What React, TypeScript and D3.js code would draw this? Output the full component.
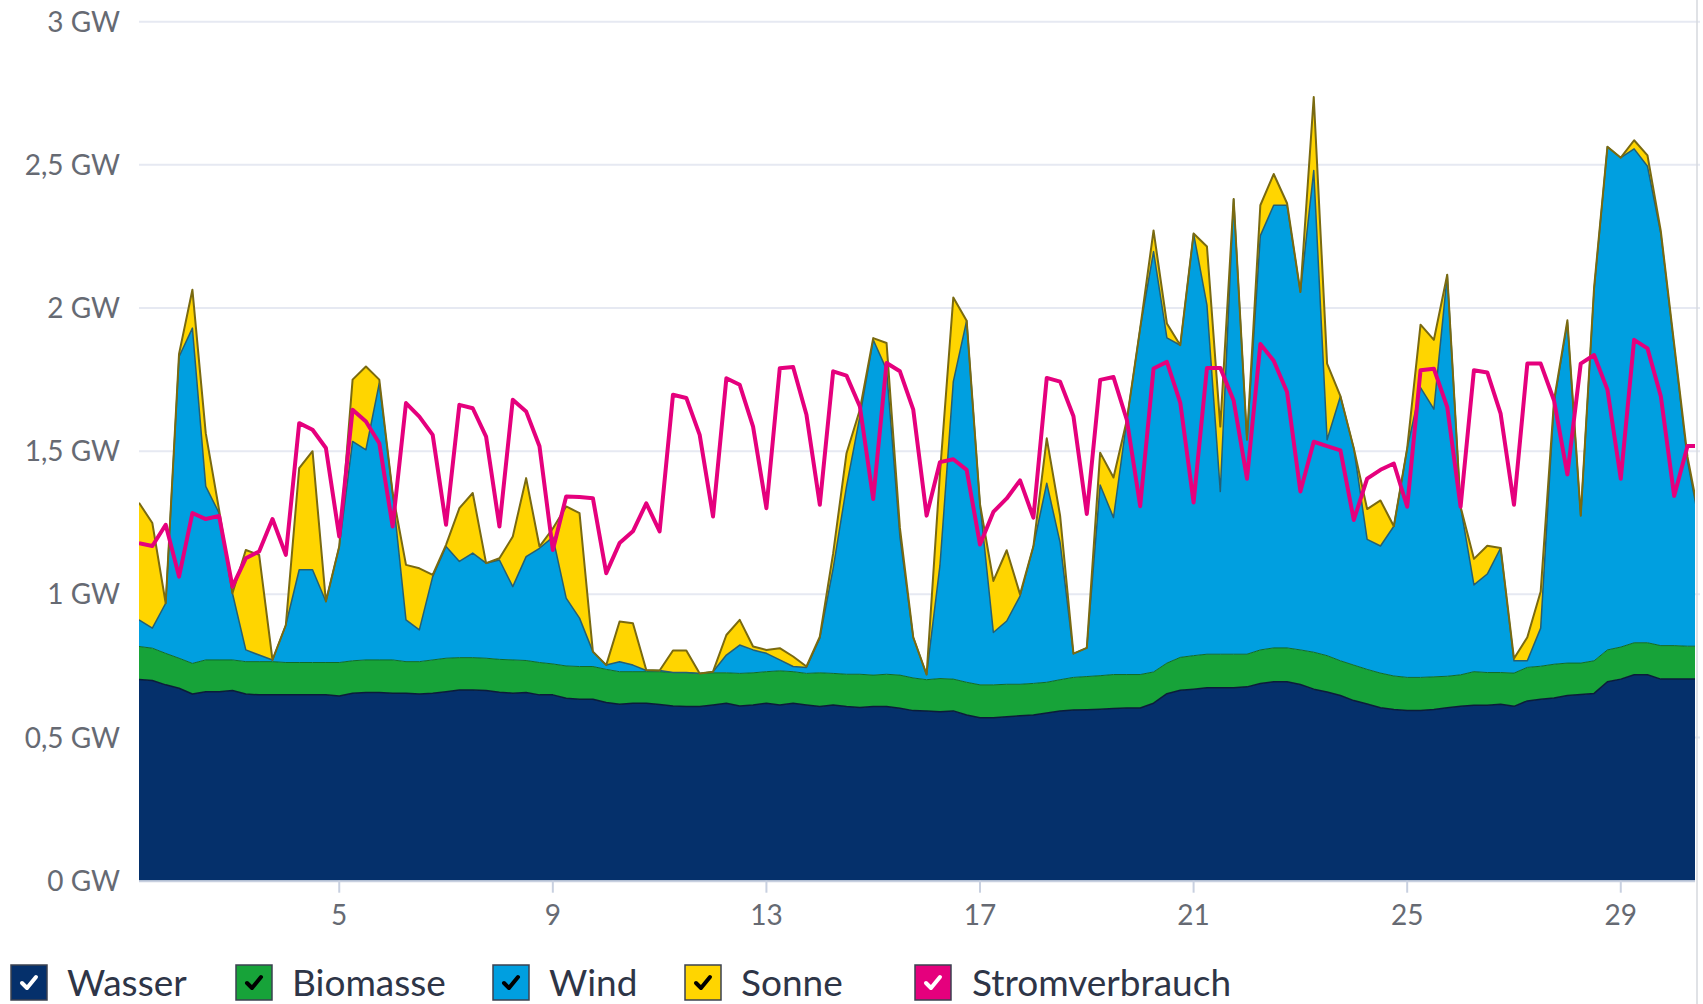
import { useEffect, useRef } from 'react';
import * as d3 from 'd3';

const width = 1703;
const height = 1004;
const plotLeft = 139;
const plotRight = 1695;
const plotTop = 21.7;
const plotBottom = 880.7;

// 6-hour values, first one at day 1, 06:00
const firstDay = 1.25;
const stepDays = 0.25;
const lastVisibleDay = 30.39;

// GW
const wasser = [0.703,0.699,0.684,0.672,0.652,0.66,0.66,0.664,0.652,0.649,
  0.649,0.649,0.649,0.649,0.649,0.645,0.655,0.657,0.657,0.655,
  0.655,0.652,0.655,0.66,0.666,0.666,0.664,0.658,0.655,0.657,
  0.649,0.649,0.637,0.634,0.634,0.622,0.616,0.62,0.62,0.615,
  0.61,0.608,0.608,0.614,0.62,0.61,0.614,0.62,0.614,0.62,
  0.614,0.608,0.614,0.608,0.605,0.608,0.608,0.602,0.594,0.593,
  0.59,0.593,0.579,0.569,0.569,0.573,0.576,0.579,0.586,0.593,
  0.596,0.597,0.599,0.601,0.603,0.603,0.62,0.653,0.665,0.669,
  0.674,0.674,0.674,0.677,0.689,0.695,0.695,0.685,0.669,0.659,
  0.647,0.629,0.617,0.604,0.598,0.594,0.594,0.598,0.604,0.609,
  0.613,0.613,0.616,0.609,0.628,0.634,0.638,0.647,0.65,0.654,
  0.695,0.704,0.719,0.719,0.704,0.704,0.704,0.704];

const biomasse = [0.115,0.113,0.11,0.105,0.107,0.111,0.111,0.107,0.113,0.116,
  0.116,0.113,0.113,0.113,0.113,0.117,0.113,0.114,0.114,0.116,
  0.11,0.113,0.116,0.117,0.113,0.113,0.113,0.115,0.116,0.112,
  0.113,0.108,0.113,0.114,0.114,0.116,0.114,0.11,0.11,0.115,
  0.117,0.119,0.116,0.112,0.106,0.114,0.112,0.11,0.119,0.11,
  0.11,0.118,0.11,0.113,0.116,0.11,0.113,0.116,0.114,0.109,
  0.116,0.111,0.114,0.115,0.115,0.113,0.11,0.11,0.107,0.109,
  0.114,0.116,0.117,0.119,0.117,0.117,0.109,0.107,0.115,0.117,
  0.117,0.117,0.117,0.114,0.117,0.118,0.118,0.121,0.129,0.127,
  0.121,0.124,0.121,0.121,0.117,0.116,0.116,0.114,0.11,0.11,
  0.117,0.114,0.111,0.116,0.117,0.115,0.118,0.113,0.11,0.114,
  0.111,0.112,0.112,0.112,0.117,0.117,0.115,0.115];

const wind = [0.093,0.07,0.175,1.053,1.171,0.606,0.513,0.233,0.041,0.023,
  0.006,0.131,0.324,0.324,0.213,0.405,0.766,0.734,0.967,0.583,
  0.146,0.111,0.291,0.39,0.336,0.365,0.332,0.347,0.256,0.363,
  0.399,0.443,0.237,0.169,0.052,0.015,0.035,0.023,0.004,0.004,
  0,0,0,0.004,0.062,0.099,0.08,0.064,0.038,0.018,
  0.021,0.121,0.367,0.656,0.9,1.171,1.064,0.484,0.142,0.018,
  0.395,1.039,1.263,0.631,0.183,0.221,0.308,0.479,0.695,0.479,
  0.083,0.1,0.666,0.548,0.889,1.21,1.468,1.136,1.09,1.474,
  1.219,0.568,1.59,0.749,1.447,1.546,1.546,1.25,1.682,0.754,
  0.924,0.757,0.454,0.444,0.523,0.8,1.012,0.935,1.402,0.587,
  0.303,0.344,0.435,0.043,0.023,0.133,0.913,1.19,0.515,1.295,
  1.757,1.709,1.725,1.664,1.439,1.045,0.646,0.403];

const sonne = [0.409,0.367,0,0.01,0.134,0.186,0.011,0,0.349,0.35,
  0,0,0.355,0.414,0,0,0.216,0.291,0.012,0,
  0.192,0.215,0.006,0.006,0.186,0.21,0,0.006,0.175,0.274,
  0.006,0.03,0.32,0.367,0,0,0.14,0.146,0.002,0,
  0.077,0.077,0,0,0.07,0.088,0.012,0.012,0.041,0.035,
  0.003,0.005,0.053,0.116,0.024,0.006,0.093,0.03,0,0,
  0.321,0.294,0,0,0.18,0.247,0.006,0,0.157,0.094,
  0,0,0.113,0.14,0,0,0.074,0.05,0,0,
  0.205,0.227,0,0,0.106,0.109,0.007,0,0.257,0.266,
  0,0,0.106,0.159,0,0,0.22,0.242,0,0,
  0.091,0.099,0,0.008,0.082,0.128,0.008,0.007,0,0.008,
  0,0,0.03,0.038,0.008,0.008,0.015,0.016];

const verbrauch = [1.179,1.169,1.243,1.062,1.284,1.263,1.274,1.027,1.126,1.15,
  1.263,1.138,1.598,1.575,1.511,1.202,1.645,1.604,1.528,1.237,
  1.668,1.621,1.557,1.243,1.662,1.65,1.551,1.237,1.68,1.639,
  1.517,1.155,1.342,1.34,1.336,1.074,1.179,1.22,1.318,1.22,
  1.697,1.686,1.557,1.272,1.755,1.732,1.586,1.301,1.79,1.794,
  1.627,1.313,1.779,1.764,1.656,1.333,1.808,1.779,1.645,1.275,
  1.462,1.472,1.435,1.174,1.288,1.335,1.398,1.268,1.756,1.743,
  1.622,1.281,1.749,1.759,1.609,1.308,1.789,1.812,1.67,1.321,
  1.791,1.791,1.677,1.404,1.874,1.816,1.707,1.359,1.533,1.518,
  1.503,1.26,1.404,1.435,1.457,1.306,1.783,1.788,1.654,1.306,
  1.783,1.775,1.631,1.313,1.806,1.806,1.677,1.419,1.806,1.836,
  1.715,1.404,1.889,1.859,1.692,1.344,1.518,1.518];

const yTicks = [0, 0.5, 1, 1.5, 2, 2.5, 3];
const xTicks = [5, 9, 13, 17, 21, 25, 29];

const stackKeys = ['wasser', 'biomasse', 'wind', 'sonne'];

const styles: any = {
  wasser: { label: 'Wasser', fill: '#05306b', line: '#0b1c3a', lineWidth: 1.5, check: '#ffffff' },
  biomasse: { label: 'Biomasse', fill: '#17a339', line: '#0f6a28', lineWidth: 1, check: '#000000' },
  wind: { label: 'Wind', fill: '#009fe0', line: '#245f74', lineWidth: 1.5, check: '#000000' },
  sonne: { label: 'Sonne', fill: '#ffd500', line: '#7a6a10', lineWidth: 2, check: '#000000' },
  verbrauch: { label: 'Stromverbrauch', fill: '#e5007d', line: '#e5007d', lineWidth: 4, check: '#ffffff' },
};

// legend layout: box left, text left
const legendItems = [
  { key: 'wasser', box: 11, text: 67 },
  { key: 'biomasse', box: 236, text: 292 },
  { key: 'wind', box: 493, text: 549 },
  { key: 'sonne', box: 685, text: 741 },
  { key: 'verbrauch', box: 915, text: 972 },
];

function gw(v: number) {
  return String(v).replace('.', ',') + ' GW';
}

function drawChart(el: SVGSVGElement) {
  const svg = d3.select(el);
  svg.selectAll('*').remove();

  const rows = wasser.map((_, i) => ({
    t: firstDay + i * stepDays,
    wasser: wasser[i],
    biomasse: biomasse[i],
    wind: wind[i],
    sonne: sonne[i],
    verbrauch: verbrauch[i],
  }));

  const x = d3.scaleLinear().domain([firstDay, lastVisibleDay]).range([plotLeft, plotRight]);
  const y = d3.scaleLinear().domain([0, 3]).range([plotBottom, plotTop]);

  svg.append('defs')
    .append('clipPath')
    .attr('id', 'plot-clip')
    .append('rect')
    .attr('x', plotLeft)
    .attr('y', 0)
    .attr('width', plotRight - plotLeft)
    .attr('height', plotBottom);

  // grid lines
  svg.append('g')
    .selectAll('line')
    .data(yTicks.filter(d => d > 0))
    .join('line')
    .attr('x1', plotLeft)
    .attr('x2', 1700)
    .attr('y1', d => y(d))
    .attr('y2', d => y(d))
    .attr('stroke', '#e6e9f2')
    .attr('stroke-width', 2);

  svg.append('g')
    .selectAll('text')
    .data(yTicks)
    .join('text')
    .attr('x', 120)
    .attr('y', d => y(d))
    .attr('dy', '0.36em')
    .attr('text-anchor', 'end')
    .attr('font-family', 'Lato, sans-serif')
    .attr('font-size', 28)
    .attr('fill', '#666a73')
    .text(d => gw(d));

  const stacked = d3.stack<any>().keys(stackKeys)(rows);

  const area = d3.area<any>()
    .x(d => x(d.data.t))
    .y0(d => y(d[0]))
    .y1(d => y(d[1]));

  const topLine = d3.line<any>()
    .x(d => x(d.data.t))
    .y(d => y(d[1]));

  const plot = svg.append('g').attr('clip-path', 'url(#plot-clip)');

  plot.selectAll('path.area')
    .data(stacked)
    .join('path')
    .attr('class', 'area')
    .attr('d', d => area(d))
    .attr('fill', d => styles[d.key].fill);

  plot.selectAll('path.top')
    .data(stacked)
    .join('path')
    .attr('class', 'top')
    .attr('d', d => topLine(d))
    .attr('fill', 'none')
    .attr('stroke', d => styles[d.key].line)
    .attr('stroke-width', d => styles[d.key].lineWidth)
    .attr('stroke-linejoin', 'round');

  const consumption = d3.line<any>()
    .x(d => x(d.t))
    .y(d => y(d.verbrauch));

  plot.append('path')
    .attr('d', consumption(rows))
    .attr('fill', 'none')
    .attr('stroke', styles.verbrauch.line)
    .attr('stroke-width', styles.verbrauch.lineWidth)
    .attr('stroke-linejoin', 'round');

  // x axis
  svg.append('line')
    .attr('x1', plotLeft)
    .attr('x2', plotRight)
    .attr('y1', plotBottom + 0.5)
    .attr('y2', plotBottom + 0.5)
    .attr('stroke', '#c8d0e0')
    .attr('stroke-width', 2);

  const xAxis = svg.append('g');
  xAxis.selectAll('line')
    .data(xTicks)
    .join('line')
    .attr('x1', d => x(d))
    .attr('x2', d => x(d))
    .attr('y1', plotBottom)
    .attr('y2', plotBottom + 12)
    .attr('stroke', '#c8d0e0')
    .attr('stroke-width', 2);

  xAxis.selectAll('text')
    .data(xTicks)
    .join('text')
    .attr('x', d => x(d))
    .attr('y', 925)
    .attr('text-anchor', 'middle')
    .attr('font-family', 'Lato, sans-serif')
    .attr('font-size', 28)
    .attr('fill', '#666a73')
    .text(d => d);

  // right border of the frame
  svg.append('line')
    .attr('x1', 1697)
    .attr('x2', 1697)
    .attr('y1', 0)
    .attr('y2', height)
    .attr('stroke', '#d6d9de')
    .attr('stroke-width', 1.5);

  // legend
  const legend = svg.append('g')
    .selectAll('g')
    .data(legendItems)
    .join('g');

  legend.append('rect')
    .attr('x', d => d.box)
    .attr('y', 965)
    .attr('width', 36)
    .attr('height', 35)
    .attr('fill', d => styles[d.key].fill)
    .attr('stroke', '#3b4150')
    .attr('stroke-width', 1.5);

  legend.append('path')
    .attr('d', d => `M${d.box + 11},${983} L${d.box + 16},${988} L${d.box + 25},${977}`)
    .attr('fill', 'none')
    .attr('stroke', d => styles[d.key].check)
    .attr('stroke-width', 4)
    .attr('stroke-linecap', 'round')
    .attr('stroke-linejoin', 'round');

  legend.append('text')
    .attr('x', d => d.text)
    .attr('y', 996)
    .attr('font-family', 'Lato, sans-serif')
    .attr('font-size', 37)
    .attr('fill', '#2e3547')
    .text(d => styles[d.key].label);
}

export default function App() {
  const ref = useRef<SVGSVGElement>(null);

  useEffect(() => {
    document.body.style.margin = '0';
    if (ref.current) drawChart(ref.current);
  }, []);

  return (
    <svg ref={ref} width={width} height={height} style={{ display: 'block', background: '#ffffff' }} />
  );
}
